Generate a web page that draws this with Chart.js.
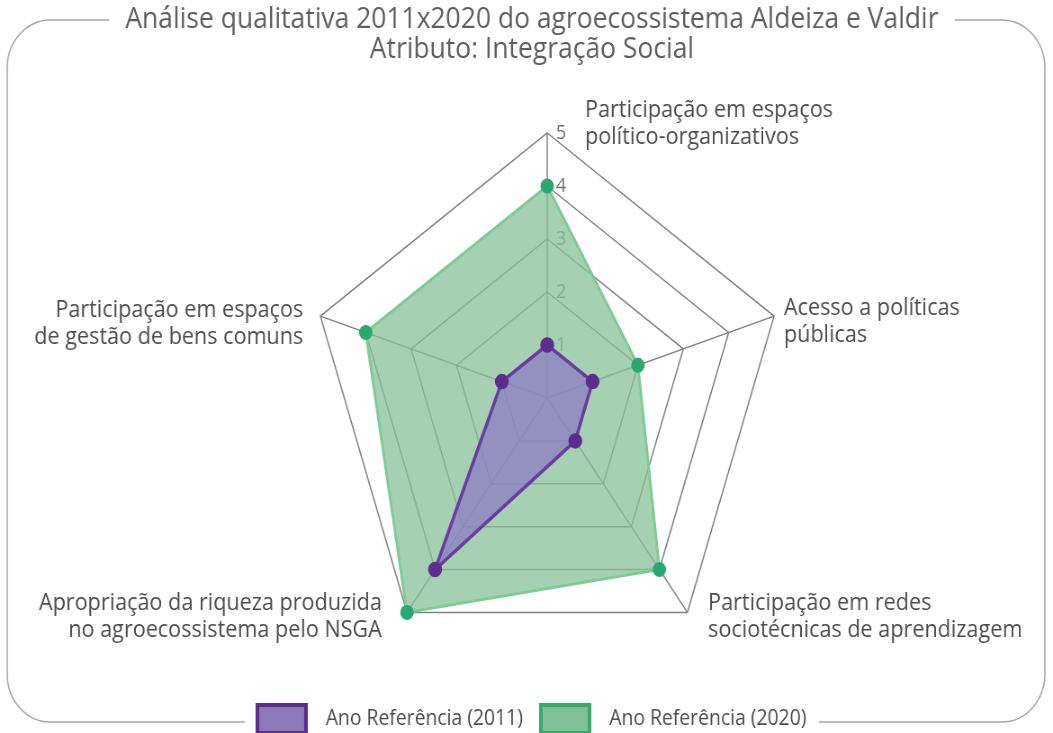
<!DOCTYPE html>
<html lang="pt">
<head>
<meta charset="utf-8">
<title>Integração Social</title>
<script src="https://cdn.jsdelivr.net/npm/chart.js@4.4.1/dist/chart.umd.min.js"></script>
<style>
  html, body { margin: 0; padding: 0; background: #fff; overflow: hidden; }
  /* a figura original está achatada na horizontal */
  #wrap { width: 1170px; height: 733px; transform: scaleX(0.9); transform-origin: 0 0; }
</style>
</head>
<body>
<div id="wrap"><canvas id="radarIntegracao" width="1170" height="733"></canvas></div>
<script>
// Dados da gráfica
const titulo = ['Análise qualitativa 2011x2020 do agroecossistema Aldeiza e Valdir', 'Atributo: Integração Social'];
const categorias = [
    ['Participação em espaços', 'político-organizativos'],
    ['Acesso a políticas', 'públicas'],
    ['Participação em redes', 'sociotécnicas de aprendizagem'],
    ['Apropriação da riqueza produzida', 'no agroecossistema pelo NSGA'],
    ['Participação em espaços', 'de gestão de bens comuns']
];
const series = ['Ano Referência (2011)', 'Ano Referência (2020)'];
const valores2011 = [1, 1, 1, 4, 1];
const valores2020 = [4, 2, 4, 5, 4];
const escalaMin = 0;
const escalaMax = 5;

// Cores
const corLegendaFundo = ['#8d79b8', '#80c096'];
const corLegendaBorda = ['#5b2d8e', '#38aa6c'];

// Posição dos rótulos em relação a cada vértice
const posRotulos = [
    { align: 'left', dx: 42, dy: -23 },
    { align: 'left', dx: 11, dy: -8 },
    { align: 'left', dx: 23, dy: -9 },
    { align: 'right', dx: -28, dy: -9 },
    { align: 'right', dx: -19, dy: -6 }
];

Chart.defaults.font.family = '"Open Sans", sans-serif';

/**
 * Moldura arredondada com aberturas para o título e a legenda
 */
const moldura = {
    id: 'moldura',
    beforeDraw(chart) {
        const { ctx, width, height } = chart;
        ctx.save();
        ctx.strokeStyle = '#a6a6a6';
        ctx.lineWidth = 1.5;
        ctx.beginPath();
        ctx.roundRect(8, 20, width - 17, height - 31, 48);
        ctx.stroke();
        ctx.fillStyle = '#fff';
        const t = chart.titleBlock;
        ctx.font = Chart.helpers.toFont(t.options.font).string;
        const w = ctx.measureText(titulo[0]).width;
        const cx = (t.left + t.right) / 2;
        ctx.fillRect(cx - w / 2 - 18, 10, w + 36, 20);
        const hb = chart.legend.legendHitBoxes;
        const ult = hb[hb.length - 1];
        const l = hb[0].left - 14;
        const r = ult.left + ult.width + 14;
        ctx.fillRect(l, height - 20, r - l, 20);
        ctx.restore();
    }
};

/**
 * Rótulos dos eixos, ao lado de cada vértice
 */
const rotulos = {
    id: 'rotulos',
    afterDatasetsDraw(chart) {
        const s = chart.scales.r;
        const ctx = chart.ctx;
        ctx.save();
        ctx.font = '24px "Open Sans"';
        ctx.fillStyle = '#4d4d4d';
        ctx.textBaseline = 'middle';
        chart.data.labels.forEach((linhas, i) => {
            const p = s.getPointPosition(i, s.drawingArea);
            const c = posRotulos[i];
            ctx.textAlign = c.align;
            linhas.forEach((txt, j) => ctx.fillText(txt, p.x + c.dx, p.y + c.dy + j * 27));
        });
        ctx.restore();
    }
};

const ctx = document.getElementById('radarIntegracao');
new Chart(ctx, {
    type: 'radar',
    data: {
        labels: categorias,
        datasets: [{
            label: series[0],
            data: valores2011,
            fill: true,
            backgroundColor: 'rgba(142, 124, 197, 0.75)',
            borderColor: '#6a3d9c',
            borderWidth: 3.5,
            pointBackgroundColor: '#5c2d8f',
            pointBorderColor: '#5c2d8f',
            pointRadius: 6
        }, {
            label: series[1],
            data: valores2020,
            fill: true,
            backgroundColor: 'rgba(136, 192, 152, 0.75)',
            borderColor: '#7fcb98',
            borderWidth: 3,
            pointBackgroundColor: '#2aa872',
            pointBorderColor: '#2aa872',
            pointRadius: 6
        }]
    },
    options: {
        responsive: false,
        animation: false,
        layout: { padding: { left: 12, bottom: -10 } },
        elements: { line: { tension: 0 } },
        scales: {
            r: {
                min: escalaMin,
                max: escalaMax,
                ticks: {
                    stepSize: 1,
                    showLabelBackdrop: false,
                    color: '#737373',
                    font: { size: 20 },
                    callback: v => '      ' + v
                },
                grid: { color: '#808080', lineWidth: 1.5 },
                angleLines: { color: '#808080', lineWidth: 1.5 },
                pointLabels: { display: false },
                afterFit(s) {
                    // espaço livre abaixo do radar para os rótulos inferiores
                    const folga = 22;
                    s.drawingArea = Math.floor((s.bottom - s.top - folga) / 2);
                    s.yCenter = s.top + s.drawingArea;
                    s.xCenter += 17;
                }
            }
        },
        plugins: {
            title: {
                display: true,
                text: titulo,
                color: '#5f5f5f',
                font: { size: 29.4, weight: 'normal', lineHeight: '30px' },
                padding: { top: 5, bottom: 68 }
            },
            legend: {
                display: true,
                position: 'bottom',
                labels: {
                    boxWidth: 54,
                    boxHeight: 28,
                    padding: 20,
                    color: '#4d4d4d',
                    font: { size: 21.5 },
                    generateLabels(chart) {
                        const itens = Chart.defaults.plugins.legend.labels.generateLabels(chart);
                        return itens.map((it, i) => Object.assign(it, {
                            text: '  ' + it.text,
                            fillStyle: corLegendaFundo[i],
                            strokeStyle: corLegendaBorda[i],
                            lineWidth: 4
                        }));
                    }
                }
            },
            tooltip: { enabled: false }
        }
    },
    plugins: [moldura, rotulos]
});
</script>
</body>
</html>
